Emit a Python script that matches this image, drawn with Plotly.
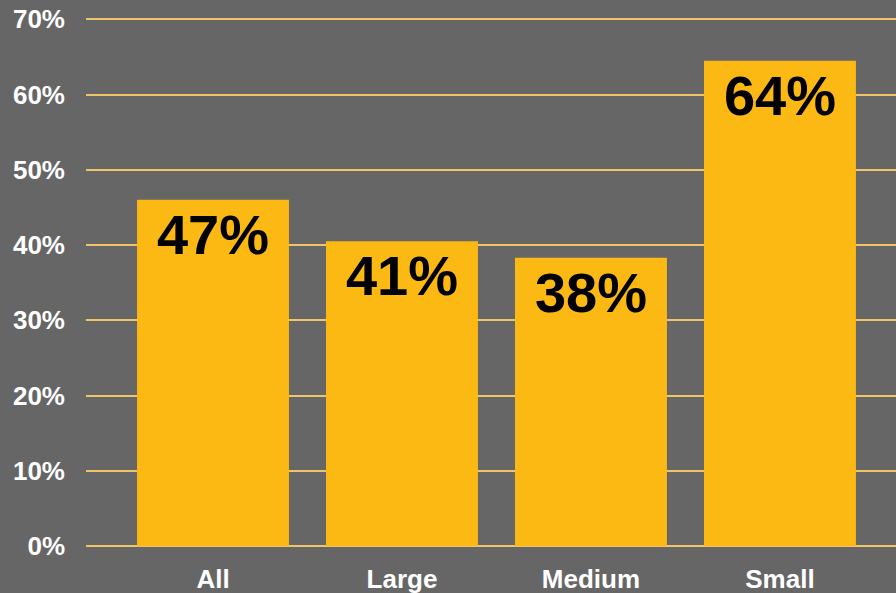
import plotly.graph_objects as go

categories = ["All", "Large", "Medium", "Small"]
values = [46.0, 40.5, 38.3, 64.5]
labels = ["47%", "41%", "38%", "64%"]
y_ticks = [0, 10, 20, 30, 40, 50, 60, 70]
y_tick_text = ["0%", "10%", "20%", "30%", "40%", "50%", "60%", "70%"]

font_family = "Liberation Sans, Arial, Helvetica, sans-serif"

fig = go.Figure(go.Bar(
    x=categories,
    y=values,
    text=labels,
    textposition="inside",
    insidetextanchor="end",
    textangle=0,
    textfont=dict(family=font_family, size=56, color="black", weight="bold"),
    marker=dict(color="#FCB813", line=dict(width=0)),
    cliponaxis=False,
))

fig.update_layout(
    width=896, height=593,
    margin=dict(l=86, r=0, t=17, b=47),
    paper_bgcolor="#666666",
    plot_bgcolor="#666666",
    bargap=0.196,
    showlegend=False,
    uniformtext=dict(minsize=56, mode="show"),
)
fig.update_xaxes(
    range=[-0.672, 3.614],
    showgrid=False, zeroline=False, showline=False,
    tickfont=dict(family=font_family, size=26, color="white", weight="bold"),
    ticks="", ticklabelstandoff=15,
)
fig.update_yaxes(
    range=[0, 70.3],
    tickvals=y_ticks, ticktext=y_tick_text,
    showgrid=True, gridcolor="#F0C46A", gridwidth=1.5,
    zeroline=True, zerolinecolor="#F0C46A", zerolinewidth=1.5,
    showline=False,
    tickfont=dict(family=font_family, size=26, color="white", weight="bold"),
    ticks="", ticklabelstandoff=20,
)

fig.write_html(
    "out.html",
    config={"displayModeBar": False},
    post_script="document.body.style.margin='0';document.body.style.background='#666666';",
)
